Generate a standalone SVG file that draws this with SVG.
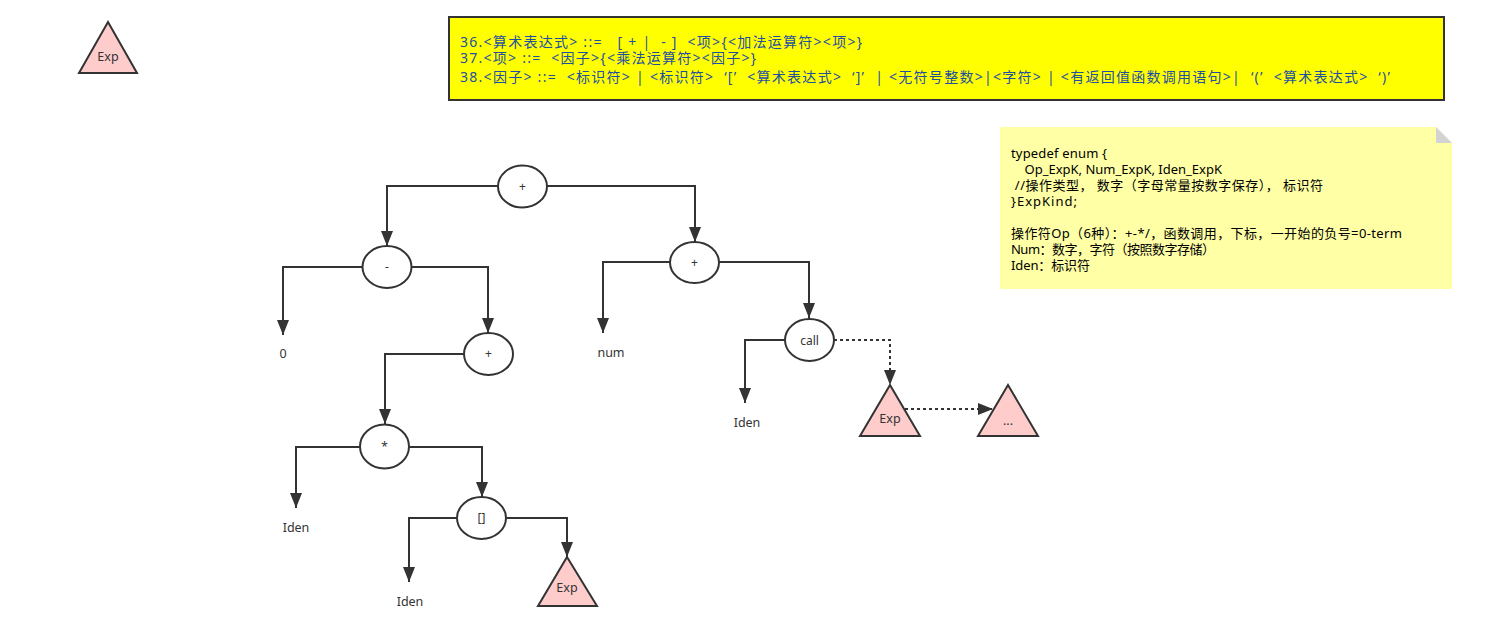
<svg xmlns="http://www.w3.org/2000/svg" width="1502" height="635" viewBox="0 0 1502 635">
<style>
text{font-family:"Noto Sans","Noto Sans CJK SC",sans-serif;}
.lbl{font-size:12.5px;fill:#333;text-anchor:middle;}
.op{font-size:12px;fill:#333;text-anchor:middle;}
.ell{fill:#fff;stroke:#333;stroke-width:2;}
.tri{fill:#ffcccc;stroke:#333;stroke-width:2;}
.edge{fill:none;stroke:#333;stroke-width:2;}
.dash{stroke-dasharray:3 3;}
.gram{font-size:14px;fill:#1f4fa0;}
.note{font-size:13px;fill:#000;}
</style>
<defs>
<marker id="arr" markerUnits="userSpaceOnUse" markerWidth="16" markerHeight="12" viewBox="0 0 16 12" refX="15" refY="6" orient="auto">
<path d="M0,0 L15,6 L0,12 Z" fill="#333"/>
</marker>
</defs>
<rect width="1502" height="635" fill="#fff"/>

<g id="exp-legend">
<polygon class="tri" points="108,22 137,73 79,73"/>
<text class="lbl" x="108" y="61">Exp</text>
</g>

<g id="grammar">
<rect x="449" y="17" width="995" height="83" fill="#ffff00" stroke="#333" stroke-width="2"/>
<text class="gram" xml:space="preserve" x="460" y="47" textLength="402" lengthAdjust="spacing">36.&lt;算术表达式&gt; ::=   [ + |  - ]  &lt;项&gt;{&lt;加法运算符&gt;&lt;项&gt;}</text>
<text class="gram" xml:space="preserve" x="460" y="63" textLength="296" lengthAdjust="spacing">37.&lt;项&gt; ::=  &lt;因子&gt;{&lt;乘法运算符&gt;&lt;因子&gt;}</text>
<text class="gram" xml:space="preserve" x="460" y="82" textLength="930" lengthAdjust="spacing">38.&lt;因子&gt; ::=  &lt;标识符&gt; | &lt;标识符&gt;  ‘[’  &lt;算术表达式&gt;  ‘]’  | &lt;无符号整数&gt;|&lt;字符&gt; | &lt;有返回值函数调用语句&gt;|  ‘(’  &lt;算术表达式&gt;  ‘)’</text>
</g>

<g id="note">
<path d="M1000,127 L1436,127 L1452,143 L1452,289 L1000,289 Z" fill="#ffffa6"/>
<path d="M1436,127 L1452,143 L1436,143 Z" fill="#d3d3d3"/>
<text class="note" x="1011" y="158" textLength="96" lengthAdjust="spacing">typedef enum {</text>
<text class="note" xml:space="preserve" x="1011" y="174">    Op_ExpK, Num_ExpK, Iden_ExpK</text>
<text class="note" xml:space="preserve" x="1011" y="190" textLength="312" lengthAdjust="spacing"> //操作类型， 数字（字母常量按数字保存）， 标识符</text>
<text class="note" x="1011" y="206" textLength="66" lengthAdjust="spacing">}ExpKind;</text>
<text class="note" x="1011" y="238" textLength="391" lengthAdjust="spacing">操作符Op（6种）：+-*/，函数调用，下标，一开始的负号=0-term</text>
<text class="note" x="1011" y="254" textLength="204" lengthAdjust="spacing">Num：数字，字符（按照数字存储）</text>
<text class="note" x="1011" y="270" textLength="79" lengthAdjust="spacing">Iden：标识符</text>
</g>

<g id="connectors">
<path class="edge" d="M498,186 H387 V246" marker-end="url(#arr)"/>
<path class="edge" d="M547,186 H695 V242" marker-end="url(#arr)"/>
<path class="edge" d="M362,267 H283 V335" marker-end="url(#arr)"/>
<path class="edge" d="M411,267 H488 V333" marker-end="url(#arr)"/>
<path class="edge" d="M464,354 H385 V424" marker-end="url(#arr)"/>
<path class="edge" d="M360,447 H296 V508" marker-end="url(#arr)"/>
<path class="edge" d="M409,447 H482 V497" marker-end="url(#arr)"/>
<path class="edge" d="M457,518 H409 V582" marker-end="url(#arr)"/>
<path class="edge" d="M506,518 H567 V557" marker-end="url(#arr)"/>
<path class="edge" d="M670,262 H603 V333" marker-end="url(#arr)"/>
<path class="edge" d="M719,262 H809 V318" marker-end="url(#arr)"/>
<path class="edge" d="M785,340 H745 V403" marker-end="url(#arr)"/>
<path class="edge dash" d="M834,340 H890 V385" marker-end="url(#arr)"/>
<path class="edge dash" d="M905,409 H993" marker-end="url(#arr)"/>
</g>

<g id="n-root"><ellipse class="ell" cx="522.5" cy="186.5" rx="24.5" ry="21"/><text class="op" x="522.5" y="190.5">+</text></g>
<g id="n-minus"><ellipse class="ell" cx="387" cy="267" rx="24.5" ry="21"/><text class="op" x="387" y="271">-</text></g>
<g id="n-zero"><text class="lbl" x="283" y="358">0</text></g>
<g id="n-plus2"><ellipse class="ell" cx="488.5" cy="354" rx="24.5" ry="21"/><text class="op" x="488.5" y="358">+</text></g>
<g id="n-mul"><ellipse class="ell" cx="384.5" cy="446.5" rx="24.5" ry="22"/><text class="op" x="384.5" y="451">*</text></g>
<g id="n-iden1"><text class="lbl" x="296" y="532">Iden</text></g>
<g id="n-index"><ellipse class="ell" cx="481.5" cy="518" rx="24.5" ry="21"/><text class="op" x="481.5" y="522">[]</text></g>
<g id="n-iden2"><text class="lbl" x="410" y="606">Iden</text></g>
<g id="n-exp1"><polygon class="tri" points="567,557 597,606 538,606"/><text class="lbl" x="567" y="592">Exp</text></g>
<g id="n-plus3"><ellipse class="ell" cx="694.5" cy="262.5" rx="24.5" ry="20.5"/><text class="op" x="694.5" y="266.5">+</text></g>
<g id="n-num"><text class="lbl" x="611" y="357">num</text></g>
<g id="n-call"><ellipse class="ell" cx="809.5" cy="340" rx="24.5" ry="21"/><text class="op" x="809.5" y="344.5">call</text></g>
<g id="n-iden3"><text class="lbl" x="747" y="427">Iden</text></g>
<g id="n-exp2"><polygon class="tri" points="890,385 920,436 860,436"/><text class="lbl" x="890" y="423">Exp</text></g>
<g id="n-more"><polygon class="tri" points="1008,385 1038,436 978,436"/><text class="lbl" x="1008" y="425">...</text></g>
</svg>
